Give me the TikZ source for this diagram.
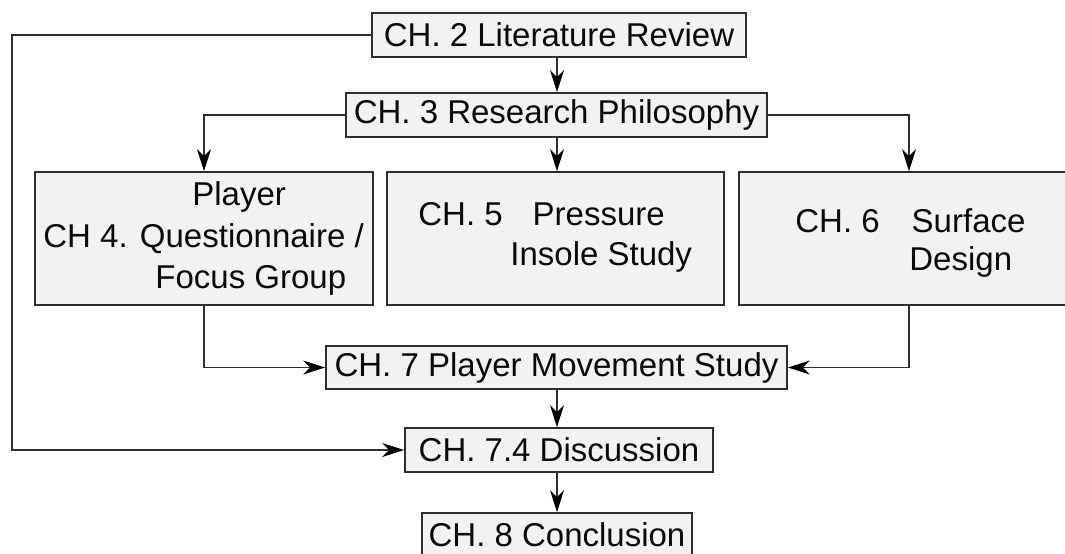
\documentclass[tikz,border=0pt]{standalone}
\usepackage{fontspec}
\setmainfont{Liberation Sans}
\usetikzlibrary{arrows.meta,calc}
\definecolor{linec}{HTML}{2E2E2E}
\definecolor{boxfill}{HTML}{F2F2F2}
\definecolor{txt}{HTML}{0A0A0A}
\begin{document}
\begin{tikzpicture}[x=0.5pt,y=-0.5pt,
  box/.style={draw=linec, fill=boxfill, line width=0.9pt, inner sep=0pt, text=txt,
    font=\fontsize{16.5pt}{19pt}\selectfont},
  lbl/.style={inner sep=0pt, anchor=base west, text=txt, font=\fontsize{16.5pt}{19pt}\selectfont},
  arr/.style={draw=linec, line width=0.8pt, -{Stealth[length=11pt,width=7pt,inset=3.5pt,color=black]}},
  ln/.style={draw=linec, line width=0.8pt}]
\useasboundingbox (0,0) rectangle (1065,553);
\node[box, minimum width=187pt, minimum height=22pt] (ch2) at (559,35) {CH. 2 Literature Review};
\node[box, minimum width=210.5pt, minimum height=22pt] (ch3) at (556.5,115) {CH. 3 Research Philosophy};
\node[box, minimum width=169pt, minimum height=66.5pt] (ch4) at (204,238.5) {};
\node[box, minimum width=168.5pt, minimum height=66.5pt] (ch5) at (555.5,238.5) {};
\node[box, minimum width=170pt, minimum height=66.5pt] (ch6) at (909,238.5) {};
\node[box, minimum width=230.5pt, minimum height=21.5pt] (ch7) at (556.5,367.5) {CH. 7 Player Movement Study};
\node[box, minimum width=154pt, minimum height=22pt] (ch74) at (559,450) {CH. 7.4 Discussion};
\node[box, minimum width=135pt, minimum height=22pt] (ch8) at (557,535) {CH. 8 Conclusion};
% multi-line texts
\node[lbl] (t4a) at (192,205) {Player};
\node[lbl] (t4b) at (43,247) {CH 4. Questionnaire /};
\node[lbl] (t4c) at (155,288) {Focus Group};
\node[lbl] (t5a) at (418,225) {CH. 5\hspace{15pt}Pressure};
\node[lbl] (t5b) at (510,265) {Insole Study};
\node[lbl] (t6a) at (795,232) {CH. 6\hspace{16pt}Surface};
\node[lbl] (t6b) at (909,270) {Design};
% helper coordinates
\coordinate (mid) at (557,0);
\coordinate (lft) at (12,0);
% connectors
\draw[arr] (ch2.south -| mid) -- (ch3.north -| mid);
\draw[arr] (ch3.south -| mid) -- (ch5.north -| mid);
\draw[arr] (ch7.south -| mid) -- (ch74.north -| mid);
\draw[arr] (ch74.south -| mid) -- (ch8.north -| mid);
\draw[arr] (ch3.west) -| (ch4.north);
\draw[arr] (ch3.east) -| (ch6.north);
\draw[arr] (ch4.south) |- (ch7.west);
\draw[arr] (ch6.south) |- (ch7.east);
\draw[arr] (ch2.west) -- (ch2.west -| lft) -- (ch74.west -| lft) -- (ch74.west);
\end{tikzpicture}
\end{document}
